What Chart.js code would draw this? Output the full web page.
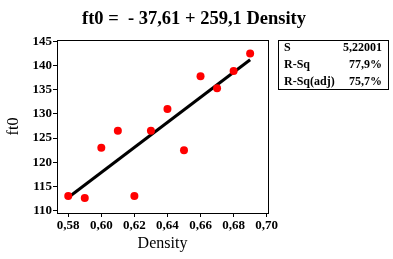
<!DOCTYPE html>
<html lang="en">
  <head>
    <meta charset="utf-8" />
    <title>ft0 vs Density</title>
    <style>
      * {
        margin: 0;
        padding: 0;
      }
      body {
        background: white;
      }
      .chartBox {
        width: 393px;
        height: 259px;
      }
    </style>
  </head>
  <body>
    <div class="chartBox">
      <canvas id="myChart" width="393" height="259"></canvas>
    </div>

    <script src="https://cdn.jsdelivr.net/npm/chart.js"></script>

    <script>
      // data block
      const density = [0.58, 0.59, 0.6, 0.61, 0.62, 0.63, 0.64, 0.65, 0.66, 0.67, 0.68, 0.69];
      const ft0 = [113.0, 112.6, 123.0, 126.5, 113.0, 126.5, 131.0, 122.5, 137.8, 135.3, 138.9, 142.5];
      const fitX = [0.58, 0.69];
      const fitY = [112.7, 141.2];
      const xTicks = [0.58, 0.6, 0.62, 0.64, 0.66, 0.68, 0.7];
      const yTicks = [110, 115, 120, 125, 130, 135, 140, 145];
      const statLabels = ["S", "R-Sq", "R-Sq(adj)"];
      const statValues = ["5,22001", "77,9%", "75,7%"];

      const serif = "'Liberation Serif', 'Times New Roman', serif";

      // frame + texts plugin
      const frameAndText = {
        id: "frameAndText",
        afterDraw(chart) {
          const { ctx, chartArea: a } = chart;
          ctx.save();
          ctx.strokeStyle = "#000";
          ctx.lineWidth = 1;
          ctx.strokeRect(
            Math.round(a.left) + 0.5,
            Math.round(a.top) + 0.5,
            Math.round(a.right - a.left),
            Math.round(a.bottom - a.top)
          );

          ctx.fillStyle = "#000";
          ctx.textBaseline = "middle";

          // title
          ctx.textAlign = "center";
          ctx.font = "bold 18.5px " + serif;
          ctx.fillText("ft0 =  - 37,61 + 259,1 Density", 194, 19);

          // axis titles
          ctx.font = "16px " + serif;
          ctx.fillText("Density", (a.left + a.right) / 2, 244);
          ctx.save();
          ctx.translate(14, (a.top + a.bottom) / 2);
          ctx.rotate(-Math.PI / 2);
          ctx.fillText("ft0", 0, 0);
          ctx.restore();

          // stats box
          ctx.strokeRect(278.5, 40.5, 110, 49);
          ctx.font = "bold 12px " + serif;
          statLabels.forEach((lab, i) => {
            const y = 48 + i * 17;
            ctx.textAlign = "left";
            ctx.fillText(lab, 284, y);
            ctx.textAlign = "right";
            ctx.fillText(statValues[i], 382, y);
          });
          ctx.restore();
        },
      };

      const tickFont = { family: serif, size: 13, weight: "bold" };

      // config block
      const config = {
        type: "scatter",
        data: {
          datasets: [
            {
              label: "ft0",
              data: density.map((d, i) => ({ x: d, y: ft0[i] })),
              backgroundColor: "#ff0000",
              borderColor: "#ff0000",
              borderWidth: 0,
              pointRadius: 4,
              order: 0,
            },
            {
              label: "fit",
              type: "line",
              data: fitX.map((d, i) => ({ x: d, y: fitY[i] })),
              borderColor: "#000",
              borderWidth: 3,
              pointRadius: 0,
              showLine: true,
              order: 1,
            },
          ],
        },
        options: {
          responsive: false,
          animation: false,
          layout: {
            padding: { left: 0, right: 125, top: 40, bottom: 0 },
          },
          plugins: {
            legend: { display: false },
            tooltip: { enabled: false },
          },
          scales: {
            x: {
              type: "linear",
              min: 0.5732,
              max: 0.7008,
              afterBuildTicks: (scale) => {
                scale.ticks = xTicks.map((v) => ({ value: v }));
              },
              afterFit: (scale) => {
                scale.height = 46;
              },
              grid: {
                drawOnChartArea: false,
                drawTicks: true,
                tickLength: 4,
                color: "#000",
              },
              border: { display: true, color: "#000" },
              ticks: {
                color: "#000",
                font: tickFont,
                padding: 1,
                maxRotation: 0,
                autoSkip: false,
                callback: (v) => v.toFixed(2).replace(".", ","),
              },
            },
            y: {
              type: "linear",
              min: 109.5,
              max: 145.3,
              afterBuildTicks: (scale) => {
                scale.ticks = yTicks.map((v) => ({ value: v }));
              },
              afterFit: (scale) => {
                scale.width = 57;
              },
              grid: {
                drawOnChartArea: false,
                drawTicks: true,
                tickLength: 4,
                color: "#000",
              },
              border: { display: true, color: "#000" },
              ticks: {
                color: "#000",
                font: tickFont,
                padding: 1,
                autoSkip: false,
                callback: (v) => v.toFixed(0),
              },
            },
          },
        },
        plugins: [frameAndText],
      };

      // init render block
      const myChart = new Chart(document.getElementById("myChart"), config);
    </script>
  </body>
</html>
